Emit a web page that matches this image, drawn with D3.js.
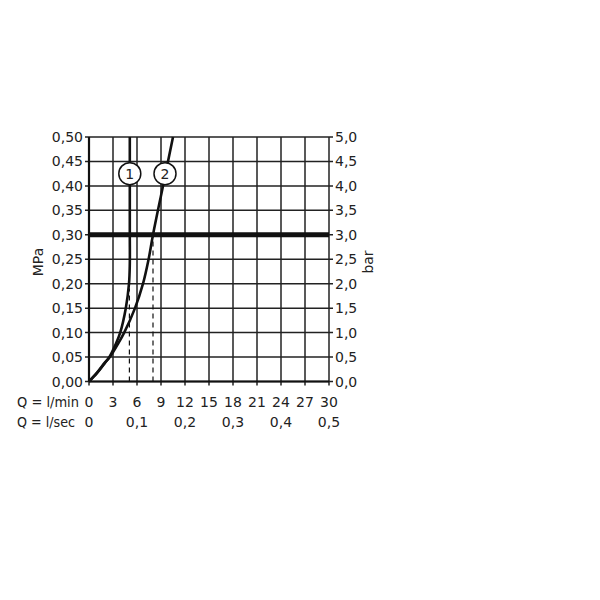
<!DOCTYPE html>
<html><head><meta charset="utf-8">
<script src="https://cdn.jsdelivr.net/npm/d3@7"></script>
<style>body{margin:0;background:#fff}text{font-family:"DejaVu Sans",sans-serif;fill:#222}</style>
</head><body><svg id="c" width="600" height="600"></svg>
<script>
const flowTicks = [0,3,6,9,12,15,18,21,24,27,30];
const secTicks = [0,0.1,0.2,0.3,0.4,0.5];
const mpaTicks = [0,0.05,0.10,0.15,0.20,0.25,0.30,0.35,0.40,0.45,0.50];
const barTicks = [0,0.5,1,1.5,2,2.5,3,3.5,4,4.5,5];
const curve1Flow = [0,1,2,2.55,3.3,3.9,4.6,5.0,5.1,5.1,5.1];
const curve1Mpa  = [0,0.017,0.038,0.05,0.075,0.10,0.15,0.20,0.24,0.30,0.50];
const curve2Flow = [0,1,2,2.6,3.55,4.4,5.75,6.75,7.45,8.0,9.25,10.5];
const curve2Mpa  = [0,0.018,0.039,0.05,0.075,0.10,0.15,0.20,0.25,0.30,0.40,0.50];
const dashFlow = [5.05, 8.0];
const dashTop  = [0.19, 0.30];
const refPressure = 0.30;
const labelNames = ["1","2"];
const labelFlow = [5.1, 9.5];
const labelMpa = [0.425, 0.425];

const svg = d3.select("#c");
const x = d3.scaleLinear().domain([0,30]).range([89,329]);
const y = d3.scaleLinear().domain([0,0.5]).range([381.5,137]);
const yb = d3.scaleLinear().domain([0,5]).range([381.5,137]);
const fmt2 = d => d3.format(".2f")(d).replace(".", ",");
const fmt1 = d => d3.format(".1f")(d).replace(".", ",");

const g = svg.append("g");
g.selectAll(".vg").data(flowTicks).join("line")
  .attr("x1", d=>x(d)).attr("x2", d=>x(d)).attr("y1", y(0)+4).attr("y2", y(0.5))
  .attr("stroke","#222").attr("stroke-width",1.5);
g.selectAll(".hg").data(mpaTicks).join("line")
  .attr("x1", x(0)-4).attr("x2", x(30)+4).attr("y1", d=>y(d)).attr("y2", d=>y(d))
  .attr("stroke","#222").attr("stroke-width",1.5);
g.append("line").attr("x1",x(0)).attr("x2",x(0)).attr("y1",y(0)).attr("y2",y(0.5)).attr("stroke","#111").attr("stroke-width",2.2);
g.append("line").attr("x1",x(0)).attr("x2",x(30)).attr("y1",y(0)).attr("y2",y(0)).attr("stroke","#111").attr("stroke-width",2);
g.append("line").attr("x1",x(0)).attr("x2",x(30)).attr("y1",y(refPressure)).attr("y2",y(refPressure)).attr("stroke","#111").attr("stroke-width",5);

g.selectAll(".dash").data(dashFlow).join("line")
  .attr("x1",d=>x(d)).attr("x2",d=>x(d)).attr("y1",y(0)).attr("y2",(d,i)=>y(dashTop[i]))
  .attr("stroke","#111").attr("stroke-width",1.2).attr("stroke-dasharray","5,4");

const line = d3.line().x(d=>x(d[0])).y(d=>y(d[1])).curve(d3.curveCatmullRom.alpha(0.5));
g.append("path").datum(curve1Flow.map((f,i)=>[f,curve1Mpa[i]])).attr("d",line)
  .attr("fill","none").attr("stroke","#111").attr("stroke-width",2.6);
g.append("path").datum(curve2Flow.map((f,i)=>[f,curve2Mpa[i]])).attr("d",line)
  .attr("fill","none").attr("stroke","#111").attr("stroke-width",2.6);

const lab = g.selectAll(".lab").data(labelNames).join("g")
  .attr("transform",(d,i)=>`translate(${x(labelFlow[i])},${y(labelMpa[i])})`);
lab.append("circle").attr("r",11).attr("fill","#fff").attr("stroke","#111").attr("stroke-width",1.5);
lab.append("text").text(d=>d).attr("text-anchor","middle").attr("dy","0.36em").attr("font-size",14);

g.selectAll(".ly").data(mpaTicks).join("text")
  .attr("x",83).attr("y",d=>y(d)).attr("dy","0.36em").attr("text-anchor","end")
  .attr("font-size",14).text(fmt2);
g.selectAll(".ry").data(barTicks).join("text")
  .attr("x",335).attr("y",d=>yb(d)).attr("dy","0.36em").attr("text-anchor","start")
  .attr("font-size",14).text(fmt1);
g.selectAll(".lx").data(flowTicks).join("text")
  .attr("x",d=>x(d)).attr("y",402).attr("dy","0.36em").attr("text-anchor","middle")
  .attr("font-size",14).text(d=>d);
g.selectAll(".sx").data(secTicks).join("text")
  .attr("x",d=>x(d*60)).attr("y",422).attr("dy","0.36em").attr("text-anchor","middle")
  .attr("font-size",14).text(d=>d===0?"0":fmt1(d));
g.append("text").attr("x",17).attr("y",402).attr("dy","0.36em").attr("font-size",14)
  .attr("textLength",62).attr("lengthAdjust","spacingAndGlyphs").text("Q = l/min");
g.append("text").attr("x",17).attr("y",422).attr("dy","0.36em").attr("font-size",14)
  .attr("textLength",58).attr("lengthAdjust","spacingAndGlyphs").text("Q = l/sec");
g.append("text").attr("transform","translate(38,262) rotate(-90)").attr("text-anchor","middle").attr("dy","0.36em").attr("font-size",14).text("MPa");
g.append("text").attr("transform","translate(368,262) rotate(-90)").attr("text-anchor","middle").attr("dy","0.36em").attr("font-size",14).text("bar");
</script></body></html>
